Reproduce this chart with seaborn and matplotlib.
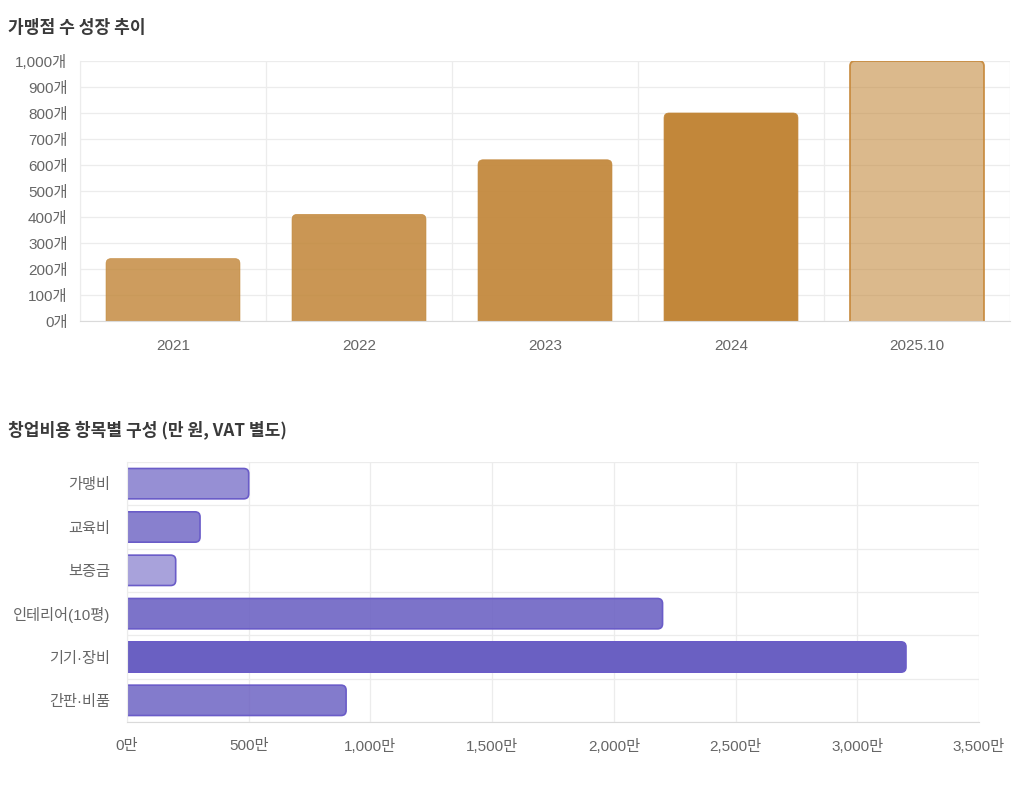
import numpy as np
import pandas as pd
import seaborn as sns
import matplotlib
matplotlib.use("Agg")
import matplotlib.pyplot as plt
from matplotlib.patches import FancyBboxPatch
from matplotlib.ticker import FixedLocator, FuncFormatter

# ---- data ----
years = ["2021", "2022", "2023", "2024", "2025.10"]
store_counts = [240, 410, 620, 800, 1000]

cost_items = ["가맹비", "교육비", "보증금", "인테리어(10평)", "기기·장비", "간판·비품"]
cost_values = [500, 300, 200, 2200, 3200, 900]

# ---- style ----
gold = "#C2873A"
gold_alpha = [0.82, 0.87, 0.93, 1.0, 0.58]
purple = "#6A60C2"
purple_alpha = [0.7, 0.8, 0.58, 0.88, 1.0, 0.83]

sns.set_style("white")
plt.rcParams["font.family"] = ["Liberation Sans", "Noto Sans CJK KR", "DejaVu Sans"]

grid_c = "#ECECEC"
axis_c = "#DADADA"
tick_c = "#666666"
title_c = "#3A3A3A"


def rgba(hex_c, a):
    r, g, b = matplotlib.colors.to_rgb(hex_c)
    return (r, g, b, a)


def round_bars(ax, radius_px, horizontal=False):
    # swap seaborn rectangles for rounded ones (base end clipped by the axis)
    fig = ax.figure
    fig.canvas.draw()
    x0, y0 = ax.transData.transform((0, 0))
    x1, y1 = ax.transData.transform((1, 1))
    rx = radius_px / abs(x1 - x0)
    ry = radius_px / abs(y1 - y0)
    for p in list(ax.patches):
        x, y = p.get_x(), p.get_y()
        w, h = p.get_width(), p.get_height()
        fc, ec, lw = p.get_facecolor(), p.get_edgecolor(), p.get_linewidth()
        if horizontal:
            ext = rx * 2
            new = FancyBboxPatch((x - ext, y), w + ext, h,
                                 boxstyle=f"round,pad=0,rounding_size={rx}",
                                 mutation_aspect=ry / rx)
        else:
            ext = ry * 2
            new = FancyBboxPatch((x, y - ext), w, h + ext,
                                 boxstyle=f"round,pad=0,rounding_size={rx}",
                                 mutation_aspect=ry / rx)
        new.set_facecolor(fc)
        new.set_edgecolor(ec)
        new.set_linewidth(lw)
        p.remove()
        ax.add_patch(new)


fig = plt.figure(figsize=(10.24, 7.94), dpi=100)

# ---------------- top chart ----------------
ax1 = fig.add_axes([80 / 1024, 1 - 321 / 794, 930 / 1024, 260 / 794])
df1 = pd.DataFrame({"year": years, "count": store_counts})
sns.barplot(data=df1, x="year", y="count", hue="year", legend=False,
            palette=[gold] * len(years), width=0.72, ax=ax1)
for i, (p, a) in enumerate(zip(ax1.patches, gold_alpha)):
    p.set_facecolor(rgba(gold, a))
    if i == len(years) - 1:
        p.set_edgecolor("#C98E44")
        p.set_linewidth(1.3)
    else:
        p.set_edgecolor(rgba(gold, a))
        p.set_linewidth(0.5)

ax1.set_xlim(-0.5, len(years) - 0.5)
ax1.set_ylim(0, 1000)
ax1.yaxis.set_major_locator(FixedLocator(np.arange(0, 1001, 100)))
ax1.yaxis.set_major_formatter(FuncFormatter(lambda v, _: f"{int(v):,}개"))
ax1.xaxis.set_minor_locator(FixedLocator(np.arange(-0.5, len(years), 1)))
ax1.grid(axis="y", which="major", color=grid_c, lw=0.9)
ax1.grid(axis="x", which="minor", color=grid_c, lw=0.9)
ax1.tick_params(axis="y", which="major", length=7, color=grid_c, width=0.9,
                labelsize=11, labelcolor=tick_c, pad=2)
ax1.tick_params(axis="x", which="major", length=0, labelsize=11,
                labelcolor=tick_c, pad=13)
ax1.tick_params(axis="x", which="minor", length=7, color=grid_c, width=0.9)
ax1.set_xlabel("")
ax1.set_ylabel("")
for s in ["top", "right"]:
    ax1.spines[s].set_visible(False)
ax1.spines["left"].set_color(grid_c)
ax1.spines["bottom"].set_color(axis_c)
ax1.spines["bottom"].set_zorder(5)
ax1.set_axisbelow(True)

fig.text(8 / 1024, 1 - 28 / 794, "가맹점 수 성장 추이", fontsize=12.3,
         fontweight="bold", color=title_c, va="center", ha="left",
         family=["Noto Sans CJK KR", "DejaVu Sans"])

# ---------------- bottom chart ----------------
ax2 = fig.add_axes([127 / 1024, 1 - 722 / 794, 852 / 1024, 260 / 794])
df2 = pd.DataFrame({"item": cost_items, "value": cost_values})
sns.barplot(data=df2, y="item", x="value", hue="item", legend=False,
            palette=[purple] * len(cost_items), width=0.7, orient="h", ax=ax2)
for p, a in zip(ax2.patches, purple_alpha):
    p.set_facecolor(rgba(purple, a))
    p.set_edgecolor("#6A5CC8")
    p.set_linewidth(1.2)

ax2.set_xlim(0, 3500)
ax2.set_ylim(len(cost_items) - 0.5, -0.5)
ax2.xaxis.set_major_locator(FixedLocator(np.arange(0, 3501, 500)))
ax2.xaxis.set_major_formatter(FuncFormatter(lambda v, _: f"{int(v):,}만"))
ax2.yaxis.set_minor_locator(FixedLocator(np.arange(-0.5, len(cost_items), 1)))
ax2.grid(axis="x", which="major", color=grid_c, lw=0.9)
ax2.grid(axis="y", which="minor", color=grid_c, lw=0.9)
ax2.tick_params(axis="x", which="major", length=6, color=grid_c, width=0.9,
                labelsize=11, labelcolor=tick_c, pad=6)
ax2.tick_params(axis="y", which="major", length=0, labelsize=11,
                labelcolor=tick_c, pad=12)
ax2.tick_params(axis="y", which="minor", length=9, color=grid_c, width=0.9)
ax2.set_xlabel("")
ax2.set_ylabel("")
for s in ["top", "right"]:
    ax2.spines[s].set_visible(False)
ax2.spines["left"].set_color(grid_c)
ax2.spines["bottom"].set_color(axis_c)
ax2.set_axisbelow(True)

fig.text(8 / 1024, 1 - 430 / 794, "창업비용 항목별 구성 (만 원, VAT 별도)", fontsize=12.3,
         fontweight="bold", color=title_c, va="center", ha="left",
         family=["Noto Sans CJK KR", "DejaVu Sans"])

round_bars(ax1, 5)
round_bars(ax2, 5, horizontal=True)

fig.savefig("out.png", dpi=100, facecolor="white")
